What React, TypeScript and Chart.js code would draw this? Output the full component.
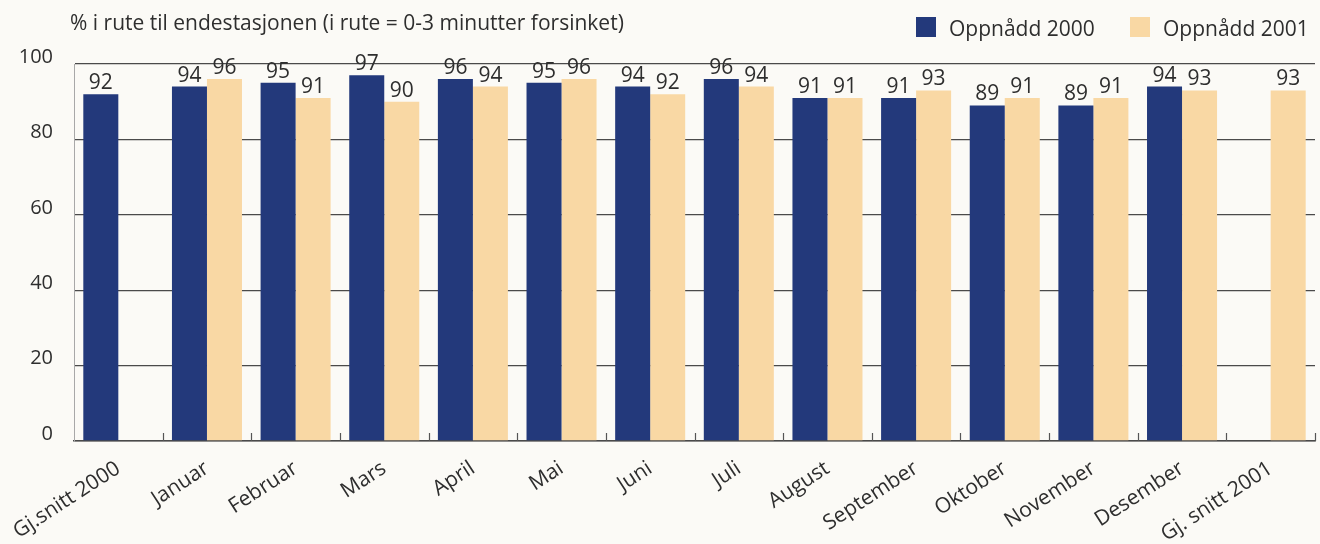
import React, { useEffect, useRef } from "react";
import { Chart, registerables } from "chart.js";

Chart.register(...registerables);

// Punctuality per month: share of trains on time at the terminal station
const categories = [
  "Gj.snitt 2000",
  "Januar",
  "Februar",
  "Mars",
  "April",
  "Mai",
  "Juni",
  "Juli",
  "August",
  "September",
  "Oktober",
  "November",
  "Desember",
  "Gj. snitt 2001",
];
const achieved2000: (number | null)[] = [92, 94, 95, 97, 96, 95, 94, 96, 91, 91, 89, 89, 94, null];
const achieved2001: (number | null)[] = [null, 96, 91, 90, 94, 96, 92, 94, 91, 93, 91, 91, 93, 93];
const seriesLabels = ["Oppnådd 2000", "Oppnådd 2001"];
const yTicks = [0, 20, 40, 60, 80, 100];
const titleText = "% i rute til endestasjonen (i rute = 0-3 minutter forsinket)";

const BLUE = "#23397b";
const PEACH = "#f9d8a4";
const TEXT = "#2e2e2e";
const FONT = "'Open Sans', sans-serif";
const BG = "#fbfaf6";

// Title on the left and legend on the right, both on the top line
const headerPlugin = {
  id: "header",
  afterDraw(chart: any) {
    const ctx = chart.ctx;
    ctx.save();
    ctx.fillStyle = TEXT;
    ctx.textBaseline = "alphabetic";
    ctx.textAlign = "left";
    ctx.font = `21px ${FONT}`;
    ctx.fillText(titleText, 70, 30);

    ctx.font = `21px ${FONT}`;
    const boxes = [916, 1130];
    chart.data.datasets.forEach((ds: any, i: number) => {
      const x = boxes[i];
      ctx.fillStyle = ds.backgroundColor;
      ctx.fillRect(x, 17, 20, 20);
      ctx.fillStyle = TEXT;
      ctx.fillText(ds.label, x + 33, 36);
    });
    ctx.restore();
  },
};

// Value labels over each bar
const valueLabelPlugin = {
  id: "valueLabels",
  afterDatasetsDraw(chart: any) {
    const ctx = chart.ctx;
    ctx.save();
    ctx.fillStyle = TEXT;
    ctx.font = `21px ${FONT}`;
    ctx.textAlign = "center";
    ctx.textBaseline = "alphabetic";
    chart.data.datasets.forEach((ds: any, i: number) => {
      const meta = chart.getDatasetMeta(i);
      meta.data.forEach((bar: any, j: number) => {
        const v = ds.data[j];
        if (v == null) return;
        ctx.fillText(String(v), bar.x, bar.y - 5);
      });
    });
    ctx.restore();
  },
};

// Short upward tick marks on the category boundaries of the x axis
const categoryTickPlugin = {
  id: "categoryTicks",
  afterDatasetsDraw(chart: any) {
    const x = chart.scales.x;
    const ctx = chart.ctx;
    const n = chart.data.labels.length;
    const w = (x.right - x.left) / n;
    const bottom = chart.chartArea.bottom;
    ctx.save();
    ctx.strokeStyle = "#555";
    ctx.lineWidth = 1.2;
    for (let i = 1; i <= n; i++) {
      const px = Math.round(x.left + i * w) + 0.5;
      ctx.beginPath();
      ctx.moveTo(px, bottom);
      ctx.lineTo(px, bottom - 8);
      ctx.stroke();
    }
    ctx.restore();
  },
};

export default function App() {
  const canvasRef = useRef<HTMLCanvasElement | null>(null);

  useEffect(() => {
    if (!canvasRef.current) return;
    const chart = new Chart(canvasRef.current, {
      type: "bar",
      data: {
        labels: categories,
        datasets: [
          {
            label: seriesLabels[0],
            data: achieved2000,
            backgroundColor: BLUE,
            categoryPercentage: 0.79,
            barPercentage: 1,
          },
          {
            label: seriesLabels[1],
            data: achieved2001,
            backgroundColor: PEACH,
            categoryPercentage: 0.79,
            barPercentage: 1,
          },
        ],
      },
      options: {
        responsive: false,
        animation: false,
        layout: { padding: { left: 0, right: 5, top: 64, bottom: 0 } },
        plugins: {
          legend: { display: false },
          title: { display: false },
          tooltip: { enabled: false },
        },
        scales: {
          x: {
            offset: true,
            grid: { display: false, drawTicks: false },
            border: { display: true, color: "#4a4a4a", width: 1.5 },
            ticks: {
              color: TEXT,
              font: { family: FONT, size: 21 },
              minRotation: 33,
              maxRotation: 33,
              autoSkip: false,
              padding: 15,
            },
            afterFit(scale: any) {
              scale.height = 103;
              scale.paddingLeft = 0;
              scale.paddingRight = 0;
            },
          },
          y: {
            min: 0,
            max: 100,
            afterBuildTicks(scale: any) {
              scale.ticks = yTicks.map((v) => ({ value: v }));
            },
            grid: { color: "#4a4a4a", lineWidth: 1.3, drawTicks: false },
            border: { display: true, color: "#a8a8a8", width: 1 },
            ticks: {
              color: TEXT,
              font: { family: FONT, size: 20 },
              padding: 21,
              labelOffset: -7,
            },
            afterFit(scale: any) {
              scale.width = 74;
              scale.paddingTop = 0;
              scale.paddingBottom = 0;
            },
          },
        },
      },
      plugins: [headerPlugin, valueLabelPlugin, categoryTickPlugin],
    });
    return () => chart.destroy();
  }, []);

  return (
    <div
      style={{
        position: "fixed",
        left: 0,
        top: 0,
        width: 1320,
        height: 544,
        background: BG,
      }}
    >
      <canvas ref={canvasRef} width={1320} height={544} />
    </div>
  );
}
